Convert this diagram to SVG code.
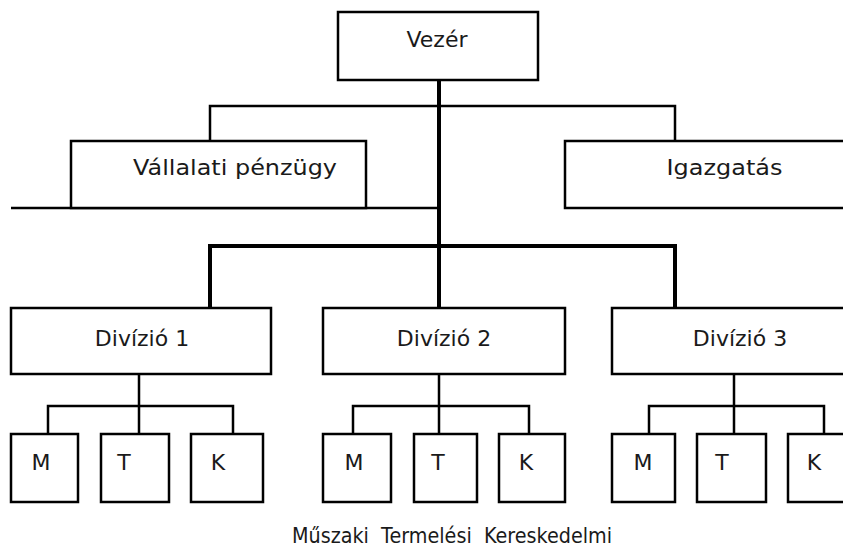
<svg xmlns="http://www.w3.org/2000/svg" width="843" height="554" viewBox="0 0 843 554">
<style>
.box{fill:#fff;stroke:#000;stroke-width:2.5}
.thin{fill:none;stroke:#000;stroke-width:2.5}
.thick{fill:none;stroke:#000;stroke-width:4}
text{font-family:"DejaVu Sans","Liberation Sans",sans-serif;font-size:22px;fill:#1a1a1a;text-anchor:middle}
</style>
<rect width="843" height="554" fill="#fff"/>
<g id="connectors">
<path class="thin" d="M210,141 V106 H675 V141"/>
<path class="thin" d="M11,208 H439"/>
<path class="thick" d="M439,80 V308"/>
<path class="thick" d="M210,308 V246 H675 V308"/>
<path class="thin" d="M139,374 V434 M48,434 V406 H233 V434"/>
<path class="thin" d="M439,374 V434 M353,434 V406 H529 V434"/>
<path class="thin" d="M734,374 V434 M649,434 V406 H824 V434"/>
</g>
<g id="vezer"><rect class="box" x="338" y="12" width="200" height="68"/><text x="437" y="47">Vezér</text></g>
<g id="penzugy"><rect class="box" x="71" y="141" width="295" height="67"/><text x="235" y="175" textLength="204" lengthAdjust="spacingAndGlyphs">Vállalati pénzügy</text></g>
<g id="igazgatas"><rect class="box" x="565" y="141" width="300" height="67"/><text x="724.5" y="175" textLength="116" lengthAdjust="spacingAndGlyphs">Igazgatás</text></g>
<g id="div1"><rect class="box" x="11" y="308" width="260" height="66"/><text x="142" y="346">Divízió 1</text></g>
<g id="div2"><rect class="box" x="323" y="308" width="242" height="66"/><text x="444" y="346">Divízió 2</text></g>
<g id="div3"><rect class="box" x="612" y="308" width="250" height="66"/><text x="740" y="346">Divízió 3</text></g>
<g id="d1m"><rect class="box" x="11" y="434" width="67" height="68"/><text x="41" y="470">M</text></g>
<g id="d1t"><rect class="box" x="101" y="434" width="68" height="68"/><text x="124" y="470">T</text></g>
<g id="d1k"><rect class="box" x="191" y="434" width="72" height="68"/><text x="218" y="470">K</text></g>
<g id="d2m"><rect class="box" x="323" y="434" width="68" height="68"/><text x="354" y="470">M</text></g>
<g id="d2t"><rect class="box" x="414" y="434" width="63" height="68"/><text x="438" y="470">T</text></g>
<g id="d2k"><rect class="box" x="499" y="434" width="66" height="68"/><text x="526" y="470">K</text></g>
<g id="d3m"><rect class="box" x="612" y="434" width="63" height="68"/><text x="643" y="470">M</text></g>
<g id="d3t"><rect class="box" x="697" y="434" width="69" height="68"/><text x="722" y="470">T</text></g>
<g id="d3k"><rect class="box" x="788" y="434" width="70" height="68"/><text x="814" y="470">K</text></g>
<text id="legend" x="452" y="543" textLength="320" lengthAdjust="spacingAndGlyphs" xml:space="preserve">Műszaki  Termelési  Kereskedelmi</text>
</svg>
